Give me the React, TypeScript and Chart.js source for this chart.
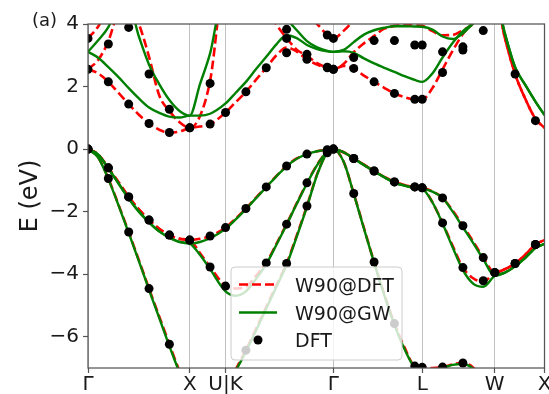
import React, { useEffect, useRef } from 'react';
import { Chart, registerables } from 'chart.js';

Chart.register(...registerables);

const FONT = "'DejaVu Sans', sans-serif";
const RED = '#ff0000';
const GREEN = '#008000';

// high-symmetry points along the path
const symPointK = [0, 1.0, 1.352, 2.412, 3.285, 3.998, 4.487];
const symPointLabels = ['Γ', 'X', 'U|K', 'Γ', 'L', 'W', 'X'];
const energyTicks = [-6, -4, -2, 0, 2, 4];
const energyMin = -7;
const energyMax = 4;
const legendLabels = ['W90@DFT', 'W90@GW', 'DFT'];

// k grid of the interpolated (Wannier) bands
const kLine = [
  0, 0.1, 0.2, 0.3, 0.4, 0.5, 0.6, 0.7, 0.8, 0.9, 1.0,
  1.1, 1.2, 1.352,
  1.452, 1.552, 1.652, 1.752, 1.852, 1.952, 2.052, 2.152, 2.252, 2.352, 2.412,
  2.512, 2.612, 2.712, 2.812, 2.912, 3.012, 3.112, 3.212, 3.285,
  3.385, 3.485, 3.585, 3.685, 3.785, 3.885, 3.998,
  4.098, 4.198, 4.298, 4.398, 4.487,
];

// W90@DFT bands (eV)
const w90dftV2 = [
  0, -0.26, -0.94, -1.78, -2.65, -3.55, -4.46, -5.35, -6.24, -7.10, -7.80,
  -7.75, -7.70, -7.70,
  -7.05, -6.43, -5.75, -5.05, -4.35, -3.66, -2.76, -1.82, -0.80, -0.10, 0,
  -0.40, -1.42, -2.52, -3.61, -4.64, -5.58, -6.35, -6.94, -6.98,
  -7.00, -6.97, -6.88, -6.84, -6.98, -7.40, -7.80,
  -7.85, -7.90, -7.90, -7.85, -7.80,
];
const w90dftV3 = [
  0, -0.17, -0.60, -1.06, -1.53, -1.93, -2.27, -2.55, -2.75, -2.87, -2.91,
  -3.32, -3.77, -4.38,
  -4.46, -4.40, -4.05, -3.64, -3.03, -2.40, -1.73, -1.08, -0.50, -0.08, 0,
  -0.10, -0.30, -0.50, -0.70, -0.89, -1.05, -1.15, -1.21, -1.24,
  -1.70, -2.36, -3.10, -3.79, -4.13, -4.24, -3.95,
  -3.84, -3.66, -3.38, -3.05, -2.91,
];
const w90dftV4 = [
  0, -0.17, -0.60, -1.06, -1.53, -1.93, -2.27, -2.55, -2.75, -2.87, -2.91,
  -2.87, -2.78, -2.51,
  -2.22, -1.90, -1.55, -1.21, -0.86, -0.54, -0.30, -0.16, -0.07, -0.02, 0,
  -0.10, -0.30, -0.50, -0.70, -0.89, -1.05, -1.15, -1.21, -1.24,
  -1.35, -1.56, -1.97, -2.45, -2.95, -3.47, -3.95,
  -3.84, -3.66, -3.38, -3.05, -2.91,
];
const w90dftC1 = [
  2.55, 2.42, 2.15, 1.80, 1.44, 1.10, 0.82, 0.62, 0.52, 0.56, 0.68,
  0.72, 0.80, 1.17,
  1.50, 1.83, 2.22, 2.60, 3.00, 3.25, 3.12, 2.87, 2.70, 2.60, 2.55,
  2.66, 2.57, 2.35, 2.15, 1.96, 1.78, 1.66, 1.59, 1.59,
  1.95, 2.55, 3.15, 3.68, 4.05, 4.45, 4.90,
  3.55, 2.40, 1.61, 0.97, 0.68,
];
const w90dftC2 = [
  2.55, 2.85, 3.45, 4.40, 4.60, 4.00, 2.95, 1.72, 1.22, 0.86, 0.68,
  1.05, 2.18, 5.50,
  5.40, 5.20, 4.90, 4.50, 3.98, 3.55, 3.18, 2.98, 2.75, 2.60, 2.55,
  2.72, 3.10, 3.38, 3.62, 3.85, 3.94, 3.96, 3.95, 3.94,
  3.77, 3.64, 3.65, 3.80, 4.00, 4.45, 4.90,
  3.55, 2.40, 1.61, 0.97, 0.68,
];
const w90dftC3 = [
  3.54, 3.92, 4.50, 5.00, 5.40, 5.70, 5.90, 6.00, 6.00, 6.00, 6.00,
  6.00, 6.00, 6.00,
  6.00, 6.00, 5.90, 5.70, 5.40, 5.00, 4.60, 4.30, 4.00, 3.65, 3.54,
  3.78, 4.12, 4.50, 4.80, 5.00, 5.20, 5.30, 5.30, 5.30,
  5.30, 5.30, 5.30, 5.30, 5.30, 5.30, 5.30,
  5.30, 5.30, 5.30, 5.30, 5.30,
];

// W90@GW bands (eV)
const w90gwV2 = [
  0, -0.27, -0.96, -1.80, -2.68, -3.58, -4.50, -5.40, -6.30, -7.15, -7.90,
  -7.85, -7.80, -7.80,
  -7.10, -6.48, -5.80, -5.10, -4.40, -3.70, -2.80, -1.85, -0.82, -0.10, 0,
  -0.40, -1.43, -2.54, -3.63, -4.67, -5.62, -6.40, -6.98, -7.05,
  -7.05, -7.00, -6.90, -6.87, -7.02, -7.45, -7.90,
  -7.95, -8.00, -8.00, -7.95, -7.90,
];
const w90gwV3 = [
  0, -0.18, -0.62, -1.10, -1.58, -2.00, -2.34, -2.63, -2.83, -2.97, -3.02,
  -3.38, -3.84, -4.55,
  -4.69, -4.55, -4.15, -3.68, -3.06, -2.42, -1.75, -1.10, -0.51, -0.08, 0,
  -0.10, -0.30, -0.51, -0.71, -0.90, -1.07, -1.17, -1.24, -1.27,
  -1.70, -2.38, -3.15, -3.87, -4.30, -4.40, -4.05,
  -3.95, -3.75, -3.48, -3.16, -3.03,
];
const w90gwV4 = [
  0, -0.18, -0.62, -1.10, -1.58, -2.00, -2.34, -2.63, -2.83, -2.97, -3.02,
  -2.97, -2.85, -2.55,
  -2.25, -1.92, -1.57, -1.22, -0.87, -0.55, -0.31, -0.16, -0.07, -0.02, 0,
  -0.10, -0.30, -0.51, -0.71, -0.90, -1.07, -1.17, -1.24, -1.27,
  -1.36, -1.56, -2.00, -2.50, -3.00, -3.52, -4.05,
  -3.95, -3.75, -3.48, -3.16, -3.03,
];
const w90gwC1 = [
  3.11, 2.92, 2.62, 2.30, 1.95, 1.62, 1.33, 1.16, 1.04, 1.01, 1.07,
  1.07, 1.13, 1.46,
  1.80, 2.15, 2.56, 2.95, 3.35, 3.64, 3.55, 3.33, 3.20, 3.13, 3.11,
  3.13, 3.08, 2.90, 2.74, 2.60, 2.47, 2.33, 2.21, 2.15,
  2.42, 2.93, 3.40, 3.77, 4.02, 4.40, 4.90,
  3.69, 2.62, 2.05, 1.52, 1.09,
];
const w90gwC2 = [
  3.11, 3.48, 3.90, 4.60, 4.60, 3.60, 2.70, 2.08, 1.57, 1.22, 1.07,
  2.07, 3.06, 5.20,
  5.20, 5.10, 4.90, 4.70, 4.45, 4.15, 3.80, 3.45, 3.25, 3.14, 3.11,
  3.17, 3.42, 3.66, 3.80, 3.88, 3.93, 3.93, 3.92, 3.91,
  3.82, 3.60, 3.52, 3.70, 4.02, 4.40, 4.90,
  3.69, 2.62, 2.05, 1.52, 1.09,
];

// DFT points (eV), null = not shown
const kDft = [
  0, 0.2, 0.4, 0.6, 0.8, 1.0, 1.2, 1.352, 1.552, 1.752, 1.952, 2.152, 2.352, 2.412,
  2.612, 2.812, 3.012, 3.212, 3.285, 3.485, 3.685, 3.885, 3.998, 4.198, 4.398,
];
const dftV2 = [0, -0.94, -2.65, -4.46, -6.24, null, null, null, -6.43, null, -3.66, -1.82, -0.12, 0,
  -1.42, -3.61, -5.58, -6.94, -6.98, -6.97, -6.84, null, null, null, null];
const dftV3 = [0, -0.60, -1.53, -2.27, -2.75, -2.91, -3.77, -4.38, null, -3.64, -2.40, -1.08, -0.06, 0,
  -0.30, -0.70, -1.05, -1.21, -1.24, -2.36, -3.79, -4.21, -3.95, -3.66, -3.05];
const dftV4 = [0, -0.60, -1.53, -2.27, -2.75, -2.91, -2.78, -2.51, -1.90, -1.21, -0.54, -0.16, -0.02, 0,
  -0.30, -0.70, -1.05, -1.21, -1.24, -1.56, -2.45, -3.47, -3.95, -3.66, -3.05];
const dftC1 = [2.55, 2.15, 1.44, 0.82, 0.53, 0.68, 0.80, 1.17, 1.83, 2.60, 3.08, 2.87, 2.60, 2.55,
  2.58, 2.15, 1.78, 1.59, 1.59, 2.45, 3.17, 3.79, null, 2.40, 0.91];
const dftC2 = [3.54, 3.36, 3.89, 2.40, 1.27, 0.68, 2.10, null, null, null, 3.54, 3.03, 2.62, 2.55,
  2.93, 3.47, 3.47, 3.33, 3.33, 3.11, 3.27, null, null, null, null];
const dftC3 = [null, null, null, null, null, null, null, null, null, null, 3.83, null, 3.65, 3.54,
  null, null, null, null, null, null, null, null, null, null, null];

const w90dftBands = [w90dftV2, w90dftV3, w90dftV4, w90dftC1, w90dftC2, w90dftC3];
const w90gwBands = [w90gwV2, w90gwV3, w90gwV4, w90gwC1, w90gwC2];
const dftBands = [dftV2, dftV3, dftV4, dftC1, dftC2, dftC3];

const toPoints = (ks: number[], es: (number | null)[]) =>
  ks.map((k, i) => ({ x: k, y: es[i] })).filter((p) => p.y !== null) as { x: number; y: number }[];

const overlay = {
  id: 'overlay',
  afterDatasetsDraw(chart: any) {
    const { ctx, chartArea: a } = chart;
    ctx.save();
    // spines
    ctx.strokeStyle = '#555555';
    ctx.lineWidth = 1.25;
    ctx.setLineDash([]);
    ctx.strokeRect(a.left, a.top, a.right - a.left, a.bottom - a.top);

    // legend
    const bx = 231, by = 267, bw = 171, bh = 93, r = 4;
    ctx.beginPath();
    ctx.moveTo(bx + r, by);
    ctx.lineTo(bx + bw - r, by);
    ctx.arcTo(bx + bw, by, bx + bw, by + r, r);
    ctx.lineTo(bx + bw, by + bh - r);
    ctx.arcTo(bx + bw, by + bh, bx + bw - r, by + bh, r);
    ctx.lineTo(bx + r, by + bh);
    ctx.arcTo(bx, by + bh, bx, by + bh - r, r);
    ctx.lineTo(bx, by + r);
    ctx.arcTo(bx, by, bx + r, by, r);
    ctx.closePath();
    ctx.fillStyle = 'rgba(255,255,255,0.8)';
    ctx.fill();
    ctx.strokeStyle = '#cccccc';
    ctx.lineWidth = 1;
    ctx.stroke();

    const hx0 = 239, hx1 = 277, tx = 295;
    const baselines = [291.5, 319.5, 347.0];
    ctx.beginPath();
    ctx.setLineDash([9, 4]);
    ctx.strokeStyle = RED;
    ctx.lineWidth = 2.6;
    ctx.moveTo(hx0, baselines[0] - 7);
    ctx.lineTo(hx1, baselines[0] - 7);
    ctx.stroke();
    ctx.beginPath();
    ctx.setLineDash([]);
    ctx.strokeStyle = GREEN;
    ctx.lineWidth = 2.4;
    ctx.moveTo(hx0, baselines[1] - 7);
    ctx.lineTo(hx1, baselines[1] - 7);
    ctx.stroke();
    ctx.beginPath();
    ctx.fillStyle = '#000';
    ctx.arc((hx0 + hx1) / 2, baselines[2] - 7, 4.5, 0, Math.PI * 2);
    ctx.fill();

    ctx.fillStyle = '#1a1a1a';
    ctx.font = `19px ${FONT}`;
    ctx.textAlign = 'left';
    ctx.textBaseline = 'alphabetic';
    legendLabels.forEach((t, i) => ctx.fillText(t, tx, baselines[i]));

    // panel tag
    ctx.font = `18px ${FONT}`;
    ctx.fillText('(a)', 32, 26);

    // y axis title
    ctx.save();
    ctx.translate(37, (a.top + a.bottom) / 2);
    ctx.rotate(-Math.PI / 2);
    ctx.textAlign = 'center';
    ctx.font = `24px ${FONT}`;
    ctx.fillText('E (eV)', 0, 0);
    ctx.restore();

    ctx.restore();
  },
};

export default function App() {
  const ref = useRef<HTMLCanvasElement>(null);
  useEffect(() => {
    const canvas = ref.current;
    if (!canvas) return;
    const datasets: any[] = [];
    dftBands.forEach((b) =>
      datasets.push({
        label: legendLabels[2],
        data: toPoints(kDft, b),
        showLine: false,
        pointRadius: 4.5,
        pointHoverRadius: 4.5,
        pointBorderWidth: 0,
        pointBackgroundColor: '#000',
        borderColor: '#000',
        backgroundColor: '#000',
        clip: 0,
        order: 0,
      })
    );
    w90gwBands.forEach((b) =>
      datasets.push({
        label: legendLabels[1],
        data: toPoints(kLine, b),
        borderColor: GREEN,
        borderWidth: 2.4,
        pointRadius: 0,
        fill: false,
        cubicInterpolationMode: 'monotone',
        clip: 0,
        order: 1,
      })
    );
    w90dftBands.forEach((b) =>
      datasets.push({
        label: legendLabels[0],
        data: toPoints(kLine, b),
        borderColor: RED,
        borderWidth: 2.6,
        borderDash: [9, 4],
        pointRadius: 0,
        fill: false,
        cubicInterpolationMode: 'monotone',
        clip: 0,
        order: 2,
      })
    );

    const chart = new Chart(canvas, {
      type: 'line',
      data: { datasets },
      options: {
        animation: false,
        responsive: false,
        devicePixelRatio: 1,
        events: [],
        layout: { padding: { left: 0, right: 3, top: 24, bottom: 0 } },
        elements: { line: { capBezierPoints: false } },
        plugins: { legend: { display: false }, tooltip: { enabled: false }, title: { display: false } },
        scales: {
          x: {
            type: 'linear',
            min: 0,
            max: symPointK[symPointK.length - 1],
            offset: false,
            afterBuildTicks: (s: any) => {
              s.ticks = symPointK.map((v) => ({ value: v }));
            },
            afterFit: (s: any) => {
              s.height = 26;
              s.paddingLeft = 0;
              s.paddingRight = 0;
            },
            ticks: {
              autoSkip: false,
              maxRotation: 0,
              minRotation: 0,
              padding: 0,
              color: '#1a1a1a',
              font: { family: FONT, size: 20 },
              callback: (v: any) => {
                let best = 0;
                symPointK.forEach((k, i) => {
                  if (Math.abs(k - v) < Math.abs(symPointK[best] - v)) best = i;
                });
                return symPointLabels[best];
              },
            },
            grid: {
              drawOnChartArea: true,
              color: '#c0c0c0',
              lineWidth: 1,
              drawTicks: true,
              tickLength: 5,
              tickColor: '#555555',
              tickWidth: 1.2,
            },
            border: { display: false },
          },
          y: {
            type: 'linear',
            min: energyMin,
            max: energyMax,
            afterBuildTicks: (s: any) => {
              s.ticks = energyTicks.map((v) => ({ value: v }));
            },
            afterFit: (s: any) => {
              s.width = 88;
              s.paddingTop = 0;
              s.paddingBottom = 0;
            },
            ticks: {
              padding: 4,
              color: '#1a1a1a',
              font: { family: FONT, size: 20 },
              callback: (v: any) => (v < 0 ? '\u2212' + Math.abs(v) : String(v)),
            },
            grid: {
              drawOnChartArea: false,
              drawTicks: true,
              tickLength: 5,
              tickColor: '#555555',
              tickWidth: 1.2,
            },
            border: { display: false },
          },
        },
      } as any,
      plugins: [overlay],
    });
    return () => chart.destroy();
  }, []);

  return (
    <div style={{ position: 'absolute', left: 0, top: 0, width: 549, height: 394, background: '#fff' }}>
      <canvas ref={ref} width={549} height={394} style={{ display: 'block' }} />
    </div>
  );
}
